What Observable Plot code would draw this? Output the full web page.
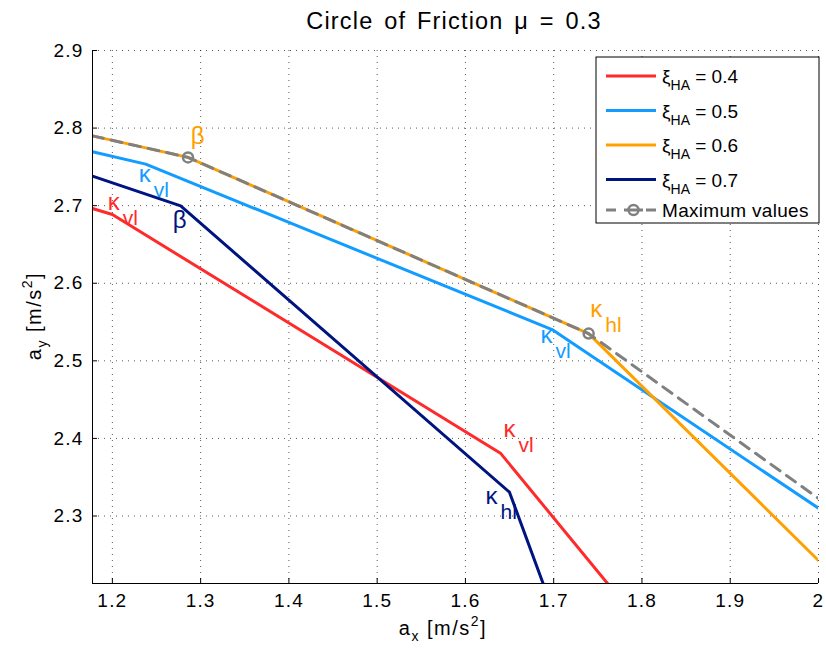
<!DOCTYPE html>
<html><head><meta charset="utf-8">
<script src="https://cdn.jsdelivr.net/npm/d3@7"></script>
<script src="https://cdn.jsdelivr.net/npm/@observablehq/plot@0.6"></script>
<style>
body{margin:0;background:#fff}
g[aria-label="x-axis tick label"] text, g[aria-label="y-axis tick label"] text { letter-spacing: 1.2px; }
</style>
</head><body><div id="chart"></div>
<script>
// ---- data ----
const xTicks = [1.2, 1.3, 1.4, 1.5, 1.6, 1.7, 1.8, 1.9, 2];
const yTicks = [2.3, 2.4, 2.5, 2.6, 2.7, 2.8, 2.9];
const xDomain = [1.1775, 2.0];
const yDomain = [2.213, 2.9];

const seriesLabels = ["0.4", "0.5", "0.6", "0.7"];
const seriesColors = ["#ff2a2a", "#139cff", "#ffa000", "#001480"];
// [ax, ay] break points of each curve
const xi04 = [[1.1775, 2.6964], [1.2, 2.6886], [1.6397, 2.381], [1.761, 2.213]];
const xi05 = [[1.1775, 2.7694], [1.2378, 2.7535], [1.6982, 2.5403], [2.0, 2.310]];
const xi06 = [[1.1775, 2.790], [1.2857, 2.7622], [1.7396, 2.5351], [2.0, 2.2426]];
const xi07 = [[1.1775, 2.738], [1.2774, 2.6997], [1.6499, 2.3307], [1.688, 2.213]];
const maxValues = [[1.1775, 2.790], [1.2857, 2.7622], [1.7396, 2.5351], [2.0, 2.3226]];
const maxMarkers = [[1.2857, 2.7622], [1.7396, 2.5351]];
const maxColor = "#808080";

// annotations: [ax, ay, main glyph, subscript, series index]
const annotations = [
  [1.1948, 2.6942, "κ", "vl", 0],
  [1.2299, 2.7303, "κ", "vl", 1],
  [1.2887, 2.7794, "β", "", 2],
  [1.2684, 2.6710, "β", "", 3],
  [1.7415, 2.5561, "κ", "hl", 2],
  [1.6850, 2.5226, "κ", "vl", 1],
  [1.6431, 2.4013, "κ", "vl", 0],
  [1.6227, 2.3161, "κ", "hl", 3]
];

// ---- tables ----
const curves = [xi04, xi05, xi06, xi07];
const lineRows = curves.flatMap((c, i) => c.map(([x, y]) => ({x, y, s: i, color: seriesColors[i]})));
const maxRows = maxValues.map(([x, y]) => ({x, y}));
const markerRows = maxMarkers.map(([x, y]) => ({x, y}));
const annRows = annotations.map(([x, y, main, sub, s]) => ({x, y, main, sub, color: seriesColors[s]}));

const ff = "'Liberation Sans', Arial, Helvetica, sans-serif";
const gridStyle = {stroke: "#000", strokeOpacity: 0.65, strokeDasharray: "1,5"};

const chart = Plot.plot({
  width: 826, height: 652,
  marginLeft: 92, marginRight: 8, marginTop: 50, marginBottom: 69,
  x: {domain: xDomain},
  y: {domain: yDomain},
  color: {type: "identity"},
  style: {fontFamily: ff, background: "#fff", overflow: "visible"},
  marks: [
    Plot.gridX(xTicks, gridStyle),
    Plot.gridY(yTicks, gridStyle),
    Plot.line(lineRows, {x: "x", y: "y", z: "s", stroke: "color", strokeWidth: 3, clip: true}),
    Plot.line(maxRows, {x: "x", y: "y", stroke: maxColor, strokeWidth: 3, strokeDasharray: "11,8", clip: true}),
    Plot.dot(markerRows, {x: "x", y: "y", r: 5, stroke: maxColor, strokeWidth: 2.5, fill: "none"}),
    Plot.text(annRows, {x: "x", y: "y", text: "main", fill: "color", fontSize: 24, textAnchor: "start", lineAnchor: "bottom"}),
    Plot.text(annRows.filter(d => d.sub), {x: "x", y: "y", text: "sub", fill: "color", fontSize: 21, textAnchor: "start", lineAnchor: "bottom", dx: 15, dy: 15}),
    Plot.ruleX([xDomain[0]], {stroke: "#000"}),
    Plot.ruleY([yDomain[0]], {stroke: "#000"}),
    Plot.axisX(xTicks, {tickSize: -5, tickPadding: 15, fontSize: 19, tickFormat: d => String(d), label: null, stroke: "#000"}),
    Plot.axisY(yTicks, {tickSize: -5, tickPadding: 14, fontSize: 19, tickFormat: d => String(d), label: null, stroke: "#000"})
  ]
});

const svg = d3.select(chart);

// title
svg.append("text").attr("x", 454).attr("y", 29).attr("text-anchor", "middle")
  .attr("font-size", 23.5).attr("font-family", ff).attr("fill", "#000")
  .style("letter-spacing", "1.2px").style("word-spacing", "3px")
  .text("Circle of Friction μ = 0.3");

function axisLabel(sel, sub) {
  sel.append("tspan").text("a");
  sel.append("tspan").attr("dy", 6).attr("font-size", 14).text(sub);
  sel.append("tspan").attr("dy", -6).text(" [m/s");
  sel.append("tspan").attr("dy", -9).attr("font-size", 14).text("2");
  sel.append("tspan").attr("dy", 9).text("]");
}
// x label
const xl = svg.append("text").attr("x", 443).attr("y", 635).attr("text-anchor", "middle")
  .attr("font-size", 20).attr("font-family", ff).attr("fill", "#000").style("letter-spacing", "1.5px");
axisLabel(xl, "x");
// y label
const yl = svg.append("text").attr("transform", "translate(41,316) rotate(-90)").attr("text-anchor", "middle")
  .attr("font-size", 20).attr("font-family", ff).attr("fill", "#000").style("letter-spacing", "1.5px");
axisLabel(yl, "y");

// legend
const lg = svg.append("g").attr("font-family", ff).attr("fill", "#000").attr("text-anchor", "start");
lg.append("rect").attr("x", 596).attr("y", 57).attr("width", 223).attr("height", 166)
  .attr("fill", "#fff").attr("stroke", "#000").attr("stroke-width", 1);
const rowY = [76, 110.5, 145, 179.5];
seriesLabels.forEach((lab, i) => {
  const y = rowY[i];
  lg.append("line").attr("x1", 606).attr("x2", 656).attr("y1", y).attr("y2", y)
    .attr("stroke", seriesColors[i]).attr("stroke-width", 3);
  const t = lg.append("text").attr("x", 662).attr("y", y + 7).attr("font-size", 19).attr("text-anchor", "start");
  t.append("tspan").text("ξ");
  t.append("tspan").attr("dy", 7).attr("font-size", 14).text("HA");
  t.append("tspan").attr("dy", -7).text(" = " + lab);
});
const my = 210;
lg.append("line").attr("x1", 606).attr("x2", 616).attr("y1", my).attr("y2", my).attr("stroke", maxColor).attr("stroke-width", 3);
lg.append("line").attr("x1", 624).attr("x2", 643).attr("y1", my).attr("y2", my).attr("stroke", maxColor).attr("stroke-width", 3);
lg.append("line").attr("x1", 646).attr("x2", 656).attr("y1", my).attr("y2", my).attr("stroke", maxColor).attr("stroke-width", 3);
lg.append("circle").attr("cx", 633.5).attr("cy", my).attr("r", 5).attr("fill", "none").attr("stroke", maxColor).attr("stroke-width", 2.5);
lg.append("text").attr("x", 662).attr("y", my + 7).attr("font-size", 19).attr("text-anchor", "start")
  .style("letter-spacing", "0.3px").text("Maximum values");

document.getElementById("chart").appendChild(chart);
</script>
</body></html>
